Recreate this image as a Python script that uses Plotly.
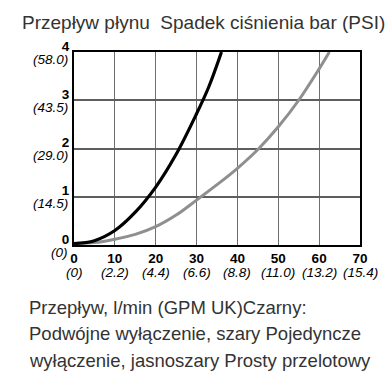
import plotly.graph_objects as go

# Data
flow_black = [0, 5, 10, 15, 20, 25, 30, 33, 36.1]
drop_black = [0.03, 0.09, 0.3, 0.68, 1.2, 1.88, 2.72, 3.28, 4.0]
flow_gray = [0, 5, 10, 15, 20, 25, 30, 35, 40, 45, 50, 55, 60, 62.5]
drop_gray = [0.03, 0.05, 0.12, 0.22, 0.38, 0.62, 0.93, 1.25, 1.59, 1.98, 2.45, 3.0, 3.65, 4.0]

x_ticks = [0, 10, 20, 30, 40, 50, 60, 70]
x_main = ["0", "10", "20", "30", "40", "50", "60", "70"]
x_sub = ["(0)", "(2.2)", "(4.4)", "(6.6)", "(8.8)", "(11.0)", "(13.2)", "(15.4)"]
y_ticks = [0, 1, 2, 3, 4]
y_main = ["0", "1", "2", "3", "4"]
y_sub = ["(0)", "(14.5)", "(29.0)", "(43.5)", "(58.0)"]

title = "Przepływ płynu  Spadek ciśnienia bar (PSI)"
caption = ["Przepływ, l/min (GPM UK)Czarny:",
           "Podwójne wyłączenie, szary Pojedyncze",
           "wyłączenie, jasnoszary Prosty przelotowy"]

FONT = "Liberation Sans, Arial, sans-serif"
X_RANGE = [0, 70]
Y_RANGE = [0, 4]

fig = go.Figure()
fig.add_trace(go.Scatter(x=flow_gray, y=drop_gray, mode="lines",
                         line=dict(color="#8f8f8f", width=3, shape="spline")))
fig.add_trace(go.Scatter(x=flow_black, y=drop_black, mode="lines",
                         line=dict(color="#000000", width=3.2, shape="spline")))

fig.update_layout(
    template="none",
    width=386, height=383, margin=dict(l=74, r=26, t=52, b=138, pad=0),
    plot_bgcolor="white", paper_bgcolor="white", showlegend=False,
    xaxis=dict(range=X_RANGE, tickmode="array", tickvals=x_ticks,
               ticktext=[f"<b>{a}</b>" for a in x_main],
               showgrid=True, gridcolor="#6e6e6e", gridwidth=1.3,
               showline=True, linecolor="#000000", linewidth=2, mirror=True,
               ticks="", zeroline=False, automargin=False, ticklabelstandoff=0,
               tickfont=dict(family=FONT, size=13.5, color="#000000")),
    yaxis=dict(range=Y_RANGE, tickmode="array", tickvals=y_ticks,
               ticktext=[f"<b>{a}</b>" for a in y_main],
               showgrid=True, gridcolor="#5e5e5e", gridwidth=2,
               showline=True, linecolor="#000000", linewidth=2, mirror=True,
               ticks="", zeroline=False, automargin=False, ticklabelshift=-6,
               tickfont=dict(family=FONT, size=13.5, color="#000000")),
)

# Secondary (PSI / GPM) labels placed through the axes
for xv, lab in zip(x_ticks, x_sub):
    fig.add_annotation(text=f"<i>{lab}</i>", xref="x", yref="paper", x=xv, y=0,
                       xanchor="center", yanchor="middle", yshift=-27.5,
                       showarrow=False, font=dict(family=FONT, size=13.5, color="#000000"))
for yv, lab in zip(y_ticks, y_sub):
    fig.add_annotation(text=f"<i>{lab}</i>", xref="paper", yref="y", x=0, y=yv,
                       xanchor="right", yanchor="middle", xshift=-4, yshift=-7,
                       showarrow=False, font=dict(family=FONT, size=13.5, color="#000000"))

fig.add_annotation(text=title, xref="paper", yref="paper", x=-0.189, y=1.0,
                   xanchor="left", yanchor="middle", yshift=30, showarrow=False,
                   font=dict(family=FONT, size=19, color="#333333"))
for i, line in enumerate(caption):
    fig.add_annotation(text=line, xref="paper", yref="paper", x=-0.164, y=0,
                       xanchor="left", yanchor="middle", yshift=-62 - 26.5 * i,
                       showarrow=False,
                       font=dict(family=FONT, size=18.5, color="#333333"))

fig.write_html("out.html", config={"displayModeBar": False},
               post_script="document.body.style.margin='0';")
